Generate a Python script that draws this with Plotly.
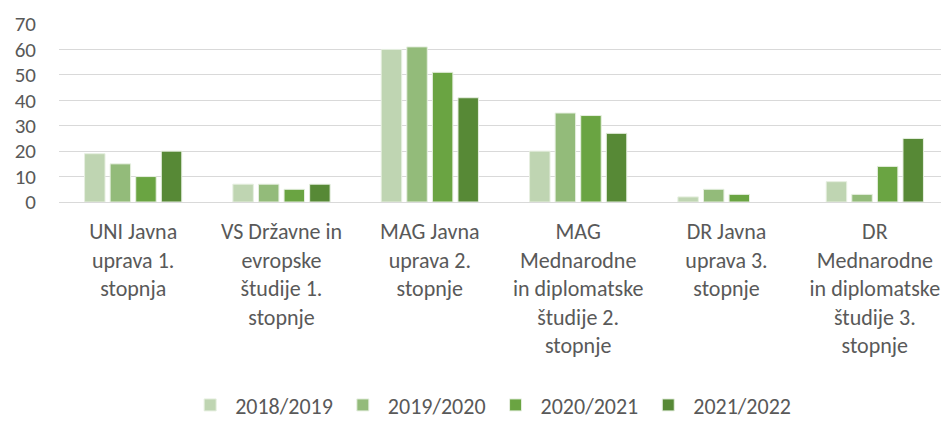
import plotly.graph_objects as go

categories = [
    "UNI Javna<br>uprava 1.<br>stopnja",
    "VS Državne in<br>evropske<br>študije 1.<br>stopnje",
    "MAG Javna<br>uprava 2.<br>stopnje",
    "MAG<br>Mednarodne<br>in diplomatske<br>študije 2.<br>stopnje",
    "DR Javna<br>uprava 3.<br>stopnje",
    "DR<br>Mednarodne<br>in diplomatske<br>študije 3.<br>stopnje",
]
series_names = ["2018/2019", "2019/2020", "2020/2021", "2021/2022"]
v_2018 = [19, 7, 60, 20, 2, 8]
v_2019 = [15, 7, 61, 35, 5, 3]
v_2020 = [10, 5, 51, 34, 3, 14]
v_2021 = [20, 7, 41, 27, None, 25]
colors = ["#bfd5b2", "#93bb7a", "#6aa442", "#578936"]

font_family = "Carlito, Lato, sans-serif"
fig = go.Figure()
for name, vals, c in zip(series_names, [v_2018, v_2019, v_2020, v_2021], colors):
    fig.add_trace(go.Bar(x=categories, y=vals, name=name,
                         marker=dict(color=c, line=dict(color="#e6efe0", width=1))))

# page body has an 8px default margin; compensate so the chart fills the 949x435 window
fig.update_layout(
    width=941, height=427,
    margin=dict(l=51, r=0, t=16, b=233, autoexpand=False),
    paper_bgcolor="white", plot_bgcolor="white",
    barmode="group", bargap=0.31, bargroupgap=0.2,
    font=dict(family=font_family, size=20, color="#595959"),
    legend=dict(orientation="h", yref="container", y=0.07, yanchor="middle",
                x=0.485, xanchor="center", font=dict(size=22, color="#595959"),
                itemwidth=40, traceorder="normal"),
)
fig.update_xaxes(showgrid=False, showline=False, ticks="", ticklabelstandoff=14,
                 automargin=False, tickfont=dict(size=22, color="#595959"))
fig.update_yaxes(range=[0, 70], dtick=10, showgrid=True, gridcolor="#d9d9d9", gridwidth=1,
                 zeroline=True, zerolinecolor="#d9d9d9", zerolinewidth=1,
                 showline=False, ticks="", ticklabelstandoff=22, automargin=False,
                 tickfont=dict(size=21, color="#595959"))

fig.write_html("out.html")
